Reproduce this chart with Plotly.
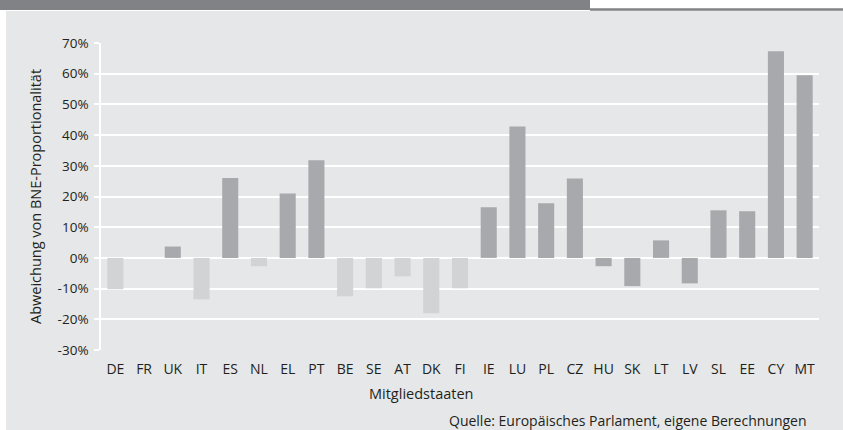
import plotly.graph_objects as go

laender = ['DE', 'FR', 'UK', 'IT', 'ES', 'NL', 'EL', 'PT', 'BE', 'SE', 'AT', 'DK', 'FI',
           'IE', 'LU', 'PL', 'CZ', 'HU', 'SK', 'LT', 'LV', 'SL', 'EE', 'CY', 'MT']
abweichung = [-10.2, 0, 3.7, -13.5, 26.0, -2.7, 21.0, 31.8, -12.5, -9.9, -6.0, -18.0, -9.9,
              16.5, 42.8, 17.8, 25.9, -2.7, -9.2, 5.7, -8.3, 15.5, 15.2, 67.3, 59.5]
y_ticks = list(range(-30, 80, 10))

colors = {
    'panel': '#e6e7e8',
    'hell': '#d1d3d4',
    'dunkel': '#a7a9ac',
    'band': '#808285',
    'text': '#231f20',
}

W, H = 843, 430
L, R, T, B = 101, 24, 43, 80
pw, ph = W - L - R, H - T - B


def px(x):
    return (x - L) / pw


def py(y):
    return 1 - (y - T) / ph


# alte Mitgliedstaaten (erste 13) mit negativer Abweichung heller
bar_colors = [colors['hell'] if (i < 13 and v < 0) else colors['dunkel']
              for i, v in enumerate(abweichung)]

fig = go.Figure(go.Bar(
    x=laender,
    y=abweichung,
    marker=dict(color=bar_colors, line=dict(width=0)),
    hoverinfo='x+y',
))

fig.update_layout(
    width=W,
    height=H,
    paper_bgcolor=colors['panel'],
    plot_bgcolor=colors['panel'],
    margin=dict(l=L, r=R, t=T, b=B),
    bargap=0.44,
    showlegend=False,
    font=dict(family='Open Sans, Noto Sans, sans-serif', size=13, color=colors['text']),
    shapes=[
        # weisser Streifen oben und links
        dict(type='rect', xref='paper', yref='paper', x0=px(0), x1=px(W), y0=py(0), y1=py(11),
             fillcolor='white', line_width=0, layer='below'),
        dict(type='rect', xref='paper', yref='paper', x0=px(0), x1=px(6), y0=py(0), y1=py(H),
             fillcolor='white', line_width=0, layer='below'),
        dict(type='rect', xref='paper', yref='paper', x0=px(0), x1=px(590), y0=py(0), y1=py(10),
             fillcolor=colors['band'], line_width=0, layer='below'),
        dict(type='rect', xref='paper', yref='paper', x0=px(590), x1=px(W), y0=py(8.3), y1=py(10.7),
             fillcolor=colors['band'], line_width=0, layer='below'),
    ],
    annotations=[
        dict(text='Mitgliedstaaten', xref='paper', yref='paper', x=px(421), y=py(393),
             showarrow=False, xanchor='center', yanchor='middle', font=dict(size=14.5)),
        dict(text='Quelle: Europäisches Parlament, eigene Berechnungen', xref='paper', yref='paper',
             x=px(809), y=py(420), showarrow=False, xanchor='right', yanchor='middle',
             font=dict(size=14)),
    ],
)

fig.update_xaxes(
    range=[-0.5, len(laender) - 0.5],
    showgrid=False,
    zeroline=False,
    showline=False,
    ticks='',
    ticklabelstandoff=9,
    tickfont=dict(size=14, color=colors['text']),
)

fig.update_yaxes(
    range=[-30, 70],
    tickvals=y_ticks,
    ticktext=[f'{v}%' for v in y_ticks],
    showgrid=True,
    gridcolor='white',
    gridwidth=1.5,
    zeroline=True,
    zerolinecolor='white',
    zerolinewidth=1.5,
    showline=True,
    linecolor='white',
    linewidth=1.5,
    ticks='outside',
    ticklen=5,
    tickcolor='white',
    tickwidth=1.5,
    ticklabelstandoff=3,
    tickfont=dict(size=13.5),
    title=dict(text='Abweichung von BNE-Proportionalität', standoff=13,
               font=dict(size=14.5, color=colors['text'])),
)

fig.write_html(
    "out.html",
    config={'displayModeBar': False},
    post_script=("document.body.style.margin='0';"
                 "document.body.style.overflow='hidden';"
                 "document.documentElement.style.overflow='hidden';"
                 "document.body.style.background='" + colors['panel'] + "';"),
)
